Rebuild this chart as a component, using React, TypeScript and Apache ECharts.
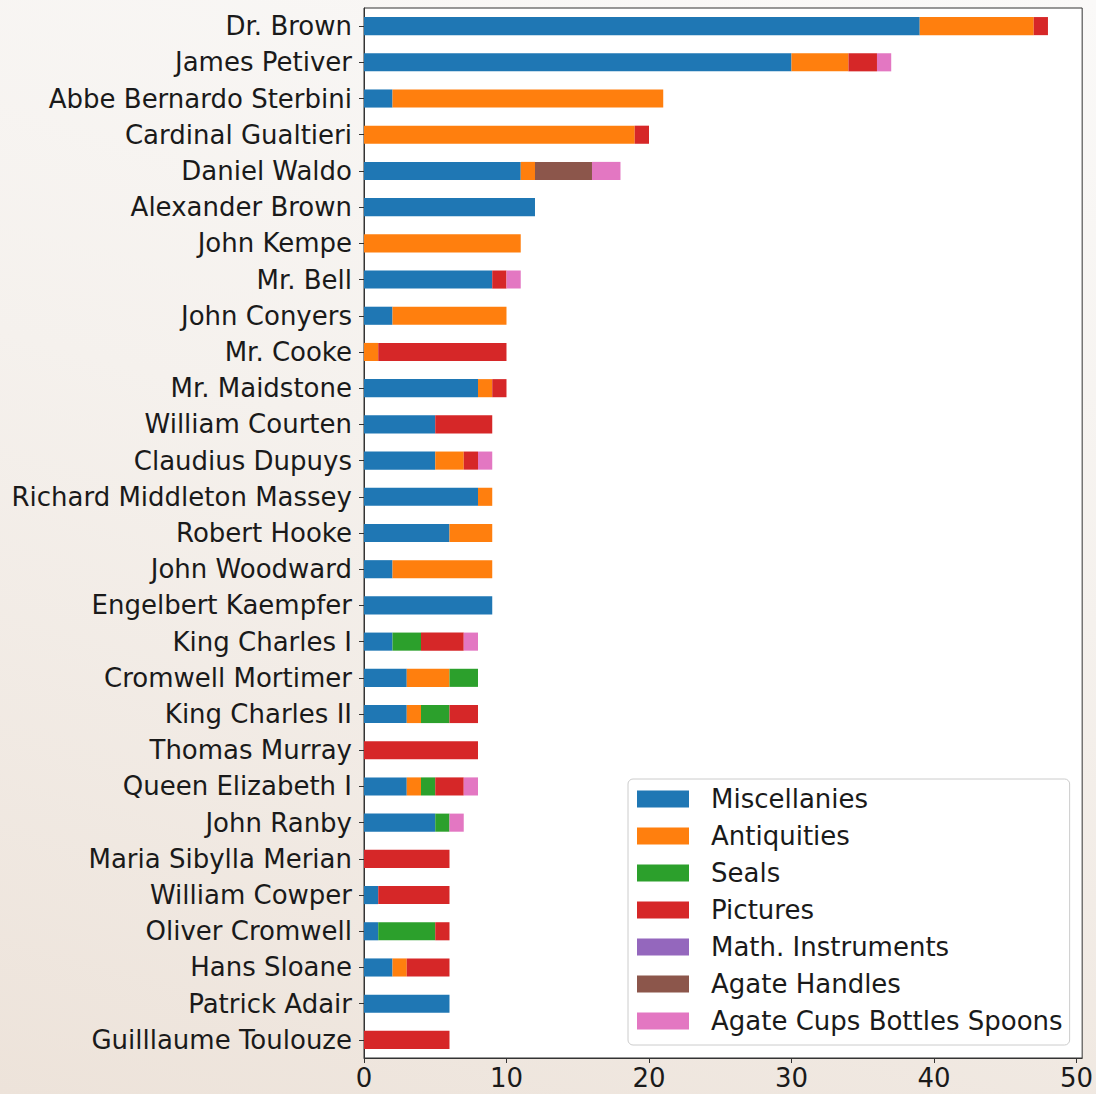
import React, { useEffect, useRef } from "react";
import * as echarts from "echarts";

const collectors = [
  "Dr. Brown",
  "James Petiver",
  "Abbe Bernardo Sterbini",
  "Cardinal Gualtieri",
  "Daniel Waldo",
  "Alexander Brown",
  "John Kempe",
  "Mr. Bell",
  "John Conyers",
  "Mr. Cooke",
  "Mr. Maidstone",
  "William Courten",
  "Claudius Dupuys",
  "Richard Middleton Massey",
  "Robert Hooke",
  "John Woodward",
  "Engelbert Kaempfer",
  "King Charles I",
  "Cromwell Mortimer",
  "King Charles II",
  "Thomas Murray",
  "Queen Elizabeth I",
  "John Ranby",
  "Maria Sibylla Merian",
  "William Cowper",
  "Oliver Cromwell",
  "Hans Sloane",
  "Patrick Adair",
  "Guilllaume Toulouze",
];

const miscellanies = [39, 30, 2, 0, 11, 12, 0, 9, 2, 0, 8, 5, 5, 8, 6, 2, 9, 2, 3, 3, 0, 3, 5, 0, 1, 1, 2, 6, 0];
const antiquities = [8, 4, 19, 19, 1, 0, 11, 0, 8, 1, 1, 0, 2, 1, 3, 7, 0, 0, 3, 1, 0, 1, 0, 0, 0, 0, 1, 0, 0];
const seals = [0, 0, 0, 0, 0, 0, 0, 0, 0, 0, 0, 0, 0, 0, 0, 0, 0, 2, 2, 2, 0, 1, 1, 0, 0, 4, 0, 0, 0];
const pictures = [1, 2, 0, 1, 0, 0, 0, 1, 0, 9, 1, 4, 1, 0, 0, 0, 0, 3, 0, 2, 8, 2, 0, 6, 5, 1, 3, 0, 6];
const mathInstruments = [0, 0, 0, 0, 0, 0, 0, 0, 0, 0, 0, 0, 0, 0, 0, 0, 0, 0, 0, 0, 0, 0, 0, 0, 0, 0, 0, 0, 0];
const agateHandles = [0, 0, 0, 0, 4, 0, 0, 0, 0, 0, 0, 0, 0, 0, 0, 0, 0, 0, 0, 0, 0, 0, 0, 0, 0, 0, 0, 0, 0];
const agateCups = [0, 1, 0, 0, 2, 0, 0, 1, 0, 0, 0, 0, 1, 0, 0, 0, 0, 1, 0, 0, 0, 1, 1, 0, 0, 0, 0, 0, 0];

const seriesNames = [
  "Miscellanies",
  "Antiquities",
  "Seals",
  "Pictures",
  "Math. Instruments",
  "Agate Handles",
  "Agate Cups Bottles Spoons",
];
const seriesValues = [miscellanies, antiquities, seals, pictures, mathInstruments, agateHandles, agateCups];
const seriesColors = ["#1f77b4", "#ff7f0e", "#2ca02c", "#d62728", "#9467bd", "#8c564b", "#e377c2"];
const xTicks = [0, 10, 20, 30, 40, 50];

const FONT = "DejaVu Sans";
const FS = 26;

export default function App() {
  const ref = useRef<HTMLDivElement>(null);

  useEffect(() => {
    if (!ref.current) return;
    const chart = echarts.init(ref.current, null, { renderer: "svg" });
    chart.setOption({
      animation: false,
      backgroundColor: "transparent",
      textStyle: { fontFamily: FONT },
      grid: {
        left: 364,
        right: 13,
        top: 8,
        bottom: 36,
        containLabel: false,
        show: true,
        backgroundColor: "#ffffff",
        borderColor: "#333333",
        borderWidth: 1,
      },
      legend: {
        orient: "vertical",
        left: 628,
        top: 779,
        data: seriesNames,
        icon: "rect",
        itemWidth: 52,
        itemHeight: 17,
        itemGap: 11,
        padding: [7, 7, 11, 9],
        backgroundColor: "#ffffff",
        borderColor: "#cccccc",
        borderWidth: 1,
        borderRadius: 5,
        textStyle: {
          fontFamily: FONT,
          fontSize: FS,
          color: "#1a1a1a",
          lineHeight: 26,
          padding: [0, 0, 0, 17],
        },
      },
      xAxis: {
        type: "value",
        min: 0,
        max: 50.4,
        interval: 10,
        splitLine: { show: false },
        axisLine: { show: true, lineStyle: { color: "#333333", width: 1 } },
        axisTick: {
          show: true,
          inside: false,
          length: 5,
          customValues: xTicks,
          lineStyle: { color: "#333333" },
        },
        axisLabel: {
          fontFamily: FONT,
          fontSize: FS,
          color: "#1a1a1a",
          margin: 7,
          customValues: xTicks,
        },
      },
      yAxis: {
        type: "category",
        data: collectors,
        inverse: true,
        axisLine: { show: true, lineStyle: { color: "#333333", width: 1 } },
        axisTick: { show: true, inside: false, length: 5, alignWithLabel: true, lineStyle: { color: "#333333" } },
        axisLabel: { fontFamily: FONT, fontSize: FS, color: "#1a1a1a", margin: 12 },
        splitLine: { show: false },
      },
      series: seriesNames.map((name, i) => ({
        name,
        type: "bar",
        stack: "total",
        barWidth: "50%",
        data: seriesValues[i],
        itemStyle: { color: seriesColors[i] },
        emphasis: { disabled: true },
      })),
    });
    return () => chart.dispose();
  }, []);

  return (
    <div
      ref={ref}
      style={{
        position: "absolute",
        left: 0,
        top: 0,
        width: 1096,
        height: 1094,
        background: "linear-gradient(195deg, #faf9f8 0%, #f5f1ed 45%, #ede3da 100%)",
      }}
    />
  );
}
